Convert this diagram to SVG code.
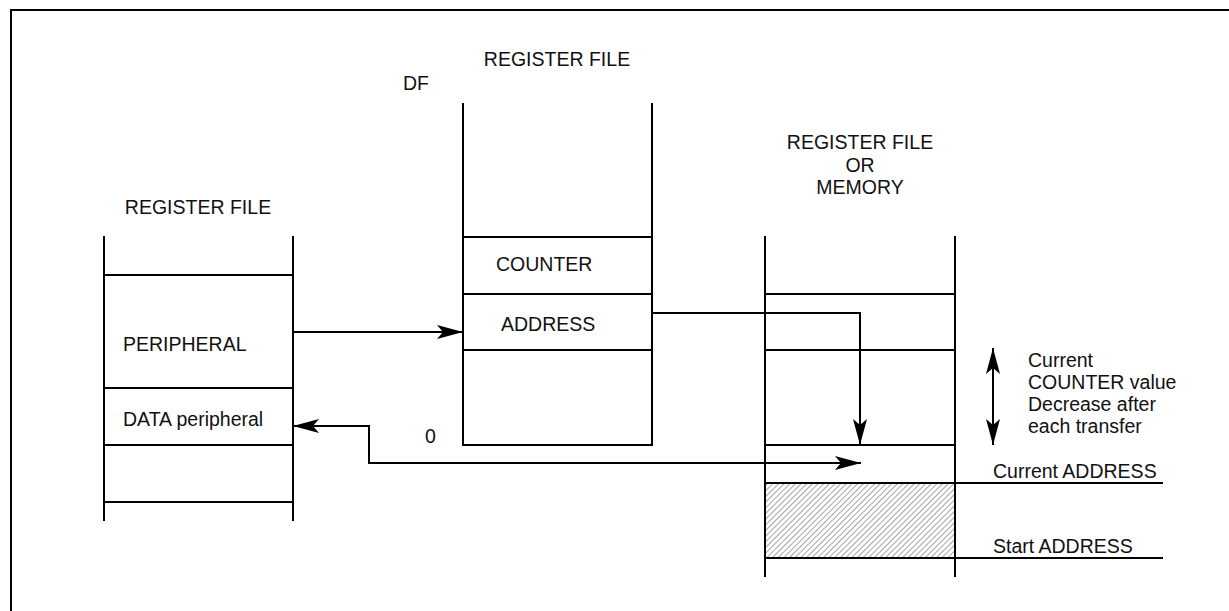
<svg xmlns="http://www.w3.org/2000/svg" width="1229" height="611" viewBox="0 0 1229 611">
<style>
.ln{stroke:#000;stroke-width:2;fill:none}
.tx{font-family:"Liberation Sans",Arial,sans-serif;font-size:19.5px;fill:#111}
.mid{text-anchor:middle}
</style>
<defs>
<marker id="ah" viewBox="0 0 26 14" refX="26" refY="7" markerWidth="26" markerHeight="14" markerUnits="userSpaceOnUse" orient="auto">
<path d="M0,0 L26,7 L0,14 L6,7 Z" fill="#000"/>
</marker>
<pattern id="hatch" width="4" height="4" patternUnits="userSpaceOnUse" patternTransform="rotate(45)">
<line x1="0" y1="0" x2="0" y2="4" stroke="#666" stroke-width="1.2"/>
</pattern>
</defs>
<rect width="1229" height="611" fill="#fff"/>
<g id="frame"><path class="ln" d="M11,611 V10 H1229"/></g>

<g id="left-register">
<path class="ln" d="M104,236 V521 M293,236 V521 M104,275 H293 M104,388 H293 M104,445 H293 M104,502 H293"/>
<text class="tx mid" x="198" y="214">REGISTER FILE</text>
<text class="tx" x="123" y="351">PERIPHERAL</text>
<text class="tx" x="123" y="426">DATA peripheral</text>
</g>

<g id="middle-register">
<path class="ln" d="M463,103 V445 H652 V103 M463,237 H652 M463,294 H652 M463,350 H652"/>
<text class="tx mid" x="557" y="66">REGISTER FILE</text>
<text class="tx" x="403" y="90">DF</text>
<text class="tx" x="496" y="271">COUNTER</text>
<text class="tx" x="501" y="331">ADDRESS</text>
<text class="tx" x="425" y="443">0</text>
</g>

<g id="right-register">
<rect x="765" y="483" width="190" height="75" fill="url(#hatch)"/>
<path class="ln" d="M765,236 V577 M955,236 V577 M765,294 H955 M765,350 H955 M765,445 H955 M765,483 H1163 M765,558 H1163"/>
<text class="tx mid" x="860" y="149">REGISTER FILE</text>
<text class="tx mid" x="860" y="172">OR</text>
<text class="tx mid" x="860" y="194">MEMORY</text>
<text class="tx" x="993" y="478">Current ADDRESS</text>
<text class="tx" x="993" y="553">Start ADDRESS</text>
<text class="tx" x="1028" y="367">Current</text>
<text class="tx" x="1028" y="389">COUNTER value</text>
<text class="tx" x="1028" y="411">Decrease after</text>
<text class="tx" x="1028" y="433">each transfer</text>
</g>

<g id="connectors">
<path class="ln" d="M293,332 H463" marker-end="url(#ah)"/>
<path class="ln" d="M652,313 H860 V445" marker-end="url(#ah)"/>
<path class="ln" d="M860,463 H369 V426 H293" marker-end="url(#ah)"/>
<path class="ln" d="M369,463 H861" marker-end="url(#ah)"/>
<path class="ln" d="M993,396 V348" marker-end="url(#ah)"/>
<path class="ln" d="M993,396 V445" marker-end="url(#ah)"/>
</g>
</svg>
